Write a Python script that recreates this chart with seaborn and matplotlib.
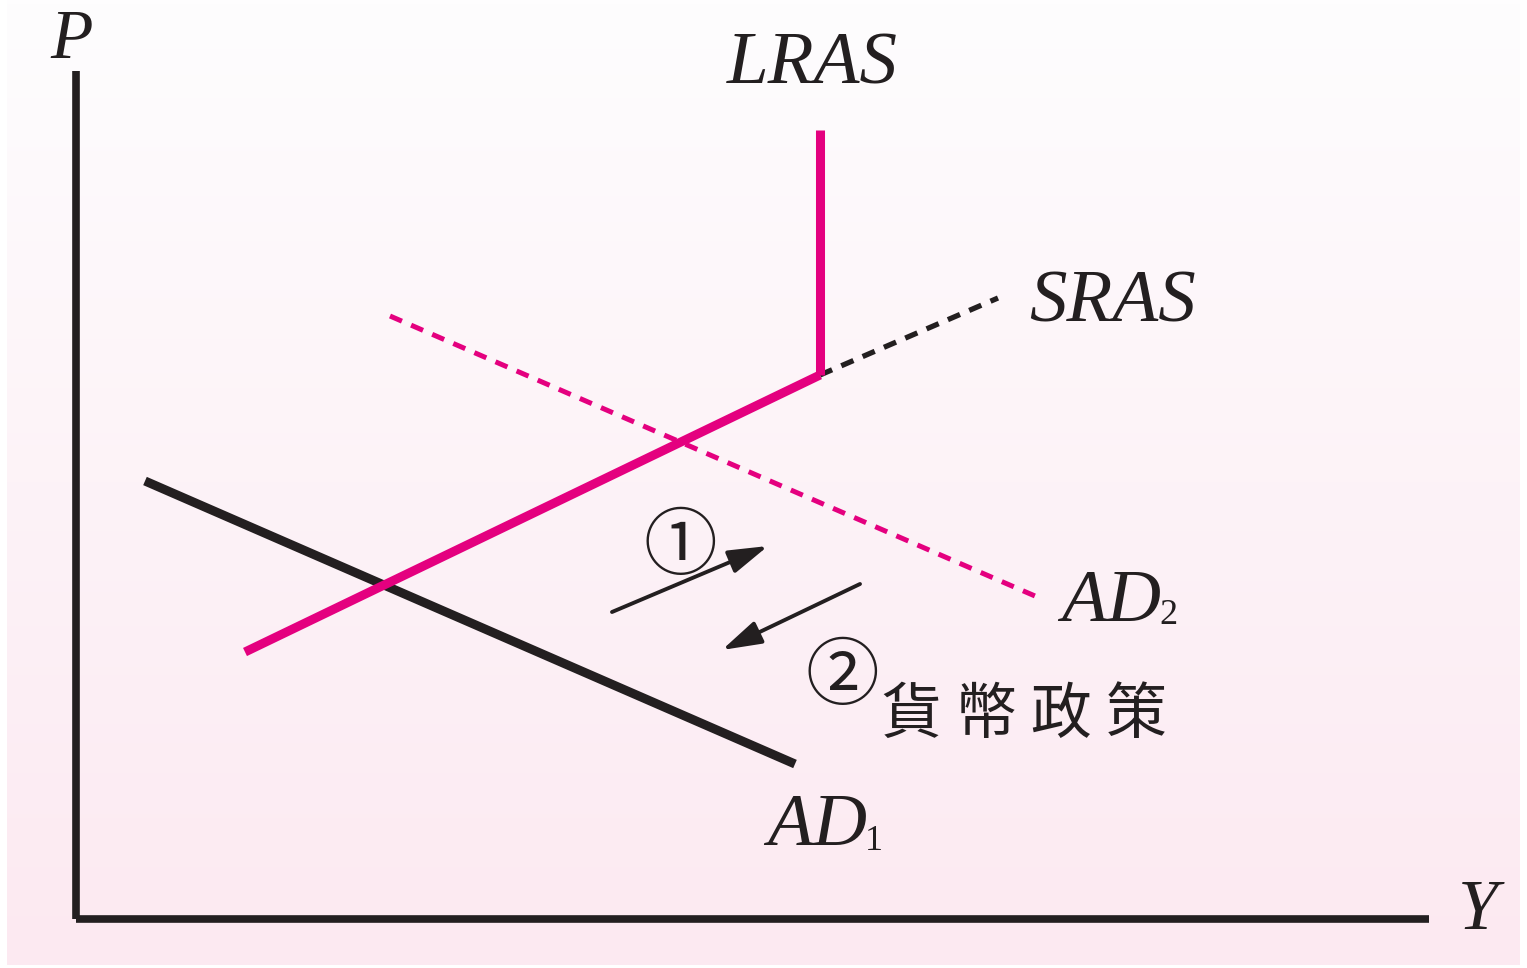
import numpy as np
import pandas as pd
import matplotlib
matplotlib.use("Agg")
import matplotlib.pyplot as plt
import seaborn as sns
from matplotlib import font_manager as fm
from matplotlib.colors import LinearSegmentedColormap

sns.set_theme(style="white")
plt.rcParams['font.family'] = ['Liberation Serif', 'DejaVu Serif']


def find_font(candidates, fallback_family, style):
    files = [f.fname for f in fm.fontManager.ttflist]
    for c in candidates:
        for f in files:
            if f.split('/')[-1].lower().startswith(c.lower()):
                return fm.FontProperties(fname=f)
    return fm.FontProperties(family=fallback_family, style=style)


ITALIC = find_font(["LiberationSerif-Italic", "Tinos-Italic", "DejaVuSerif-Italic"],
                   "DejaVu Serif", "italic")
ROMAN = find_font(["LiberationSerif-Regular", "Tinos-Regular", "DejaVuSerif.ttf"],
                  "DejaVu Serif", "normal")

# ---- data (diagram coordinates: origin at axes corner) ----
p_axis_x = [0, 0]
p_axis_y = [848, 0]
y_axis_x = [0, 1353]
y_axis_y = [0, 0]

ad1_x = [69, 719]
ad1_y = [438, 155]

sras_x = [169, 744]
sras_y = [267, 544]
sras_ext_x = [744, 922]
sras_ext_y = [544, 621]

lras_x = [744, 744]
lras_y = [544, 789]

ad2_x = [314, 959]
ad2_y = [603, 323]

arrow1_start = (536, 307)
arrow1_end = (692, 373)
arrow2_start = (784, 335)
arrow2_end = (646, 269)

PINK = "#e4007f"
INK = "#231f20"

fig = plt.figure(figsize=(15.27, 9.68), dpi=100)
ax = fig.add_axes([0, 0, 1, 1])
ax.set_xlim(-76, 1451)
ax.set_ylim(-49, 919)
ax.axis("off")

# background gradient
cmap = LinearSegmentedColormap.from_list("bg", ["#fefdfe", "#fce9f1"])
grad = np.linspace(0, 1, 256).reshape(-1, 1)
ax.imshow(grad, extent=[-69, 1444, -46, 919], origin="upper", cmap=cmap,
          aspect="auto", zorder=0)


def seg(x, y, **kw):
    df = pd.DataFrame({"x": x, "y": y})
    sns.lineplot(data=df, x="x", y="y", sort=False, estimator=None, ax=ax, **kw)


# axes of the diagram
seg(p_axis_x, p_axis_y, color=INK, lw=5.5, zorder=3)
seg(y_axis_x, y_axis_y, color=INK, lw=5.5, zorder=3)

# AD2 dashed pink
seg(ad2_x, ad2_y, color=PINK, lw=3.6, linestyle=(0, (2.6, 2.0)), zorder=2)
# SRAS extension dashed black
seg(sras_ext_x, sras_ext_y, color=INK, lw=3.8, linestyle=(0, (2.5, 1.9)), zorder=2)
# AD1
seg(ad1_x, ad1_y, color=INK, lw=6.5, zorder=3)
# SRAS + LRAS pink
seg(sras_x, sras_y, color=PINK, lw=6.5, zorder=4)
seg(lras_x, lras_y, color=PINK, lw=6.5, zorder=4)
for ln in ax.lines:
    ln.set_solid_capstyle("butt")

# arrows
for s, e in [(arrow1_start, arrow1_end), (arrow2_start, arrow2_end)]:
    ax.annotate("", xy=e, xytext=s,
                arrowprops=dict(arrowstyle="-|>,head_length=2.0,head_width=0.6",
                                color=INK, lw=2.8, shrinkA=0, shrinkB=0),
                zorder=5)


def label(x, y, s, size, fp, ha="center"):
    p = fp.copy()
    p.set_size(size)
    ax.text(x, y, s, fontproperties=p, color=INK, ha=ha, va="baseline")


label(-4, 861, "P", 50, ITALIC)
label(1402, -10, "Y", 52, ITALIC)
label(736, 836, "LRAS", 54, ITALIC)
label(1037, 597, "SRAS", 54, ITALIC)
label(1035, 298, "AD", 54, ITALIC)
label(1083, 295, "2", 26, ROMAN, ha="left")
label(741, 74, "AD", 54, ITALIC)
label(789, 69, "1", 26, ROMAN, ha="left")

cjk = ["Noto Sans CJK TC", "DejaVu Sans"]
ax.text(604, 371, "①", fontsize=53, family=cjk, color=INK,
        ha="center", va="center", fontweight="light")
ax.text(766, 241, "②", fontsize=53, family=cjk, color=INK,
        ha="center", va="center", fontweight="light")
ax.text(948, 203, "貨 幣 政 策", fontsize=44, family=cjk, color=INK,
        ha="center", va="center")

fig.savefig("out.png", dpi=100)
